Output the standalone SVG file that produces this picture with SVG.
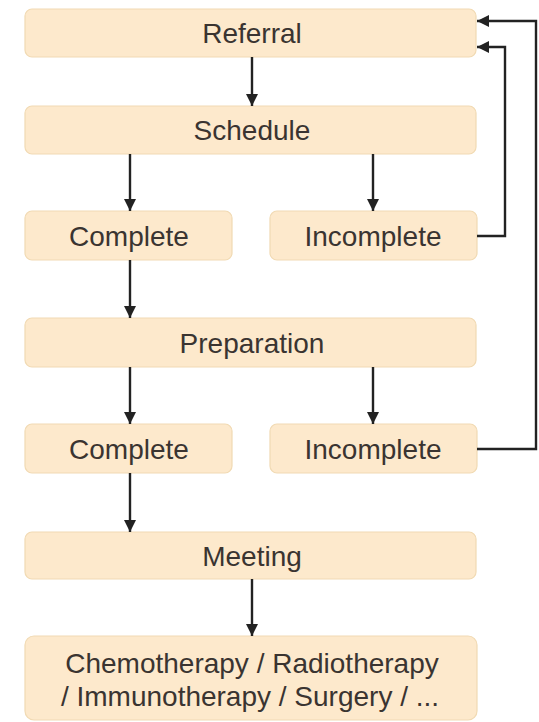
<svg xmlns="http://www.w3.org/2000/svg" width="539" height="722" viewBox="0 0 539 722">
  <style>
    .box { fill: #fde9cc; stroke: #f1dab3; stroke-width: 1.2; }
    .lbl { font-family: "Liberation Sans", Arial, sans-serif; font-size: 28px; fill: #3a3431; text-anchor: middle; }
    .edge { fill: none; stroke: #222; stroke-width: 2.4; marker-end: url(#arrow); }
  </style>
  <defs>
    <marker id="arrow" markerWidth="12" markerHeight="12" refX="10" refY="5" orient="auto" markerUnits="userSpaceOnUse" viewBox="0 0 10 10">
      <path d="M0,0 L10,5 L0,10 Z" fill="#222"/>
    </marker>
  </defs>
  <rect width="539" height="722" fill="#ffffff"/>

  <g id="referral">
    <rect class="box" x="25" y="9" width="451" height="48" rx="7"/>
    <text class="lbl" x="252" y="43">Referral</text>
  </g>
  <g id="schedule">
    <rect class="box" x="25" y="106" width="451" height="48" rx="7"/>
    <text class="lbl" x="252" y="140">Schedule</text>
  </g>
  <g id="complete1">
    <rect class="box" x="25" y="211" width="207" height="49" rx="7"/>
    <text class="lbl" x="129" y="246">Complete</text>
  </g>
  <g id="incomplete1">
    <rect class="box" x="270" y="211" width="207" height="49" rx="7"/>
    <text class="lbl" x="373" y="246">Incomplete</text>
  </g>
  <g id="preparation">
    <rect class="box" x="25" y="318" width="451" height="49" rx="7"/>
    <text class="lbl" x="252" y="353">Preparation</text>
  </g>
  <g id="complete2">
    <rect class="box" x="25" y="424" width="207" height="49" rx="7"/>
    <text class="lbl" x="129" y="459">Complete</text>
  </g>
  <g id="incomplete2">
    <rect class="box" x="270" y="424" width="207" height="49" rx="7"/>
    <text class="lbl" x="373" y="459">Incomplete</text>
  </g>
  <g id="meeting">
    <rect class="box" x="25" y="532" width="451" height="47" rx="7"/>
    <text class="lbl" x="252" y="566">Meeting</text>
  </g>
  <g id="treatment">
    <rect class="box" x="25" y="636" width="452" height="84" rx="9"/>
    <text class="lbl" x="252" y="673">Chemotherapy / Radiotherapy</text>
    <text class="lbl" x="250" y="706">/ Immunotherapy / Surgery / ...</text>
  </g>

  <g id="connectors">
    <path class="edge" d="M252,57 V106"/>
    <path class="edge" d="M130,154 V211"/>
    <path class="edge" d="M373,154 V211"/>
    <path class="edge" d="M130,260 V318"/>
    <path class="edge" d="M130,367 V424"/>
    <path class="edge" d="M373,367 V424"/>
    <path class="edge" d="M130,473 V532"/>
    <path class="edge" d="M252,579 V636"/>
    <path class="edge" d="M477,236 H505 V47 H477"/>
    <path class="edge" d="M477,449 H536 V21 H477"/>
  </g>
</svg>
